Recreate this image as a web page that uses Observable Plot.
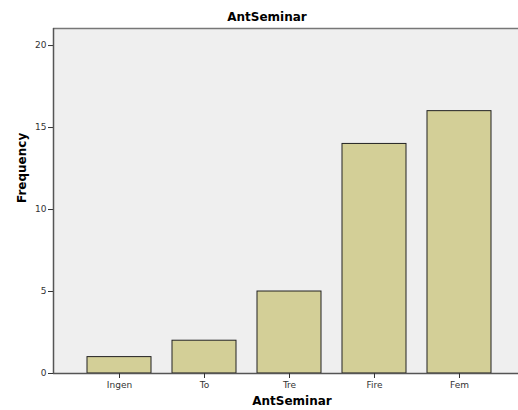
<!DOCTYPE html>
<html>
<head>
<meta charset="utf-8">
<script src="https://cdn.jsdelivr.net/npm/d3@7"></script>
<script src="https://cdn.jsdelivr.net/npm/@observablehq/plot@0.6"></script>
<style>
  html, body { margin: 0; padding: 0; background: #fff; }
  svg { display: block; }
</style>
</head>
<body>
<div id="chart"></div>
<script>
const categories = ["Ingen", "To", "Tre", "Fire", "Fem"];
const frequencies = [1, 2, 5, 14, 16];
const yTicks = [0, 5, 10, 15, 20];
const title = "AntSeminar";
const xLabel = "AntSeminar";
const yLabel = "Frequency";

const data = categories.map((c, i) => ({category: c, value: frequencies[i]}));

const chart = Plot.plot({
  width: 518,
  height: 410,
  marginLeft: 53,
  marginRight: 0,
  marginTop: 28,
  marginBottom: 37,
  style: {fontFamily: "'DejaVu Sans', sans-serif", fontSize: "9px", color: "#333", background: "#fff"},
  x: {domain: categories, range: [53, 525], paddingInner: 0.247, paddingOuter: 0.4, round: false, label: null, tickSize: 5, tickPadding: 3},
  y: {domain: [0, 21.04], ticks: yTicks, label: null, tickSize: 5, tickPadding: 2},
  marks: [
    Plot.frame({fill: "#efefef", stroke: null}),
    Plot.barY(data, {x: "category", y: "value", fill: "#d3cf97", stroke: "#222", strokeWidth: 1}),
    Plot.ruleY([21.04], {stroke: "#777", strokeWidth: 1.5}),
    Plot.ruleY([0], {stroke: "#555", strokeWidth: 1.5}),
    Plot.axisY({ticks: yTicks, tickSize: 5, tickPadding: 2, label: null}),
    Plot.axisX({tickSize: 5, tickPadding: 3, label: null}),
    Plot.text([title], {frameAnchor: "top", lineAnchor: "middle", dx: -19, dy: -11, fontWeight: "bold", fontSize: 12, fill: "#000"}),
    Plot.text([xLabel], {frameAnchor: "bottom", lineAnchor: "middle", dx: 6, dy: 28, fontWeight: "bold", fontSize: 12, fill: "#000"}),
    Plot.text([yLabel], {frameAnchor: "left", lineAnchor: "middle", dx: -31, dy: 2, rotate: -90, fontWeight: "bold", fontSize: 12, fill: "#000"})
  ]
});

// left axis line
const svg = d3.select(chart);
svg.append("line")
  .attr("x1", 53.5).attr("x2", 53.5).attr("y1", 28).attr("y2", 373)
  .attr("stroke", "#555").attr("stroke-width", 1.5);

document.getElementById("chart").appendChild(chart);
</script>
</body>
</html>
